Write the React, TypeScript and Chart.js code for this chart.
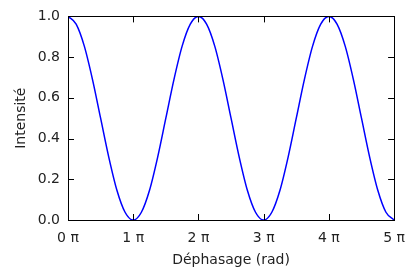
import React, { useEffect, useRef } from "react";
import { Chart, registerables } from "chart.js";

Chart.register(...registerables);

// Phase in units of π
const phase = [
  0, 0.125, 0.25, 0.375, 0.5, 0.625, 0.75, 0.875,
  1, 1.125, 1.25, 1.375, 1.5, 1.625, 1.75, 1.875,
  2, 2.125, 2.25, 2.375, 2.5, 2.625, 2.75, 2.875,
  3, 3.125, 3.25, 3.375, 3.5, 3.625, 3.75, 3.875,
  4, 4.125, 4.25, 4.375, 4.5, 4.625, 4.75, 4.875,
  5,
];
const intensity = [
  1, 0.962, 0.854, 0.691, 0.5, 0.309, 0.146, 0.038,
  0, 0.038, 0.146, 0.309, 0.5, 0.691, 0.854, 0.962,
  1, 0.962, 0.854, 0.691, 0.5, 0.309, 0.146, 0.038,
  0, 0.038, 0.146, 0.309, 0.5, 0.691, 0.854, 0.962,
  1, 0.962, 0.854, 0.691, 0.5, 0.309, 0.146, 0.038,
  0,
];
const xTicks = [0, 1, 2, 3, 4, 5];
const yTicks = [0, 0.2, 0.4, 0.6, 0.8, 1.0];
const xTitle = "Déphasage (rad)";
const yTitle = "Intensité";

const FONT = "'DejaVu Sans', sans-serif";

const framePlugin = {
  id: "frameTicks",
  afterDraw(chart: any) {
    const { ctx, chartArea } = chart;
    const { left, right, top, bottom } = chartArea;
    const xs = chart.scales.x;
    const ys = chart.scales.y;
    const L = 6;
    ctx.save();
    ctx.strokeStyle = "#000";
    ctx.lineWidth = 1;
    ctx.beginPath();
    for (const v of xTicks) {
      const px = Math.round(xs.getPixelForValue(v)) + 0.5;
      ctx.moveTo(px, bottom);
      ctx.lineTo(px, bottom - L);
      ctx.moveTo(px, top);
      ctx.lineTo(px, top + L);
    }
    for (const v of yTicks) {
      const py = Math.round(ys.getPixelForValue(v)) + 0.5;
      ctx.moveTo(left, py);
      ctx.lineTo(left + L, py);
      ctx.moveTo(right, py);
      ctx.lineTo(right - L, py);
    }
    ctx.stroke();
    ctx.strokeRect(Math.round(left) + 0.5, Math.round(top) + 0.5, Math.round(right - left), Math.round(bottom - top));
    ctx.restore();
  },
};

export default function App() {
  const ref = useRef<HTMLCanvasElement>(null);
  useEffect(() => {
    document.body.style.margin = "0";
    const chart = new Chart(ref.current!, {
      type: "line",
      data: {
        datasets: [
          {
            data: phase.map((p, i) => ({ x: p, y: intensity[i] })),
            borderColor: "#0000ff",
            borderWidth: 1.5,
            pointRadius: 0,
            cubicInterpolationMode: "monotone",
            fill: false,
          },
        ],
      },
      options: {
        animation: false,
        responsive: false,
        layout: { padding: { top: 12, right: 11, left: 0, bottom: 0 } },
        plugins: { legend: { display: false }, tooltip: { enabled: false } },
        scales: {
          x: {
            type: "linear",
            min: 0,
            max: 5,
            afterBuildTicks: (s: any) => {
              s.ticks = xTicks.map((v) => ({ value: v }));
            },
            afterFit: (s: any) => {
              s.height = 53;
            },
            grid: { display: false, drawTicks: false },
            border: { display: false },
            ticks: {
              color: "#222",
              font: { family: FONT, size: 14 },
              padding: 10,
              maxRotation: 0,
              callback: (v: any) => `${v} π`,
            },
            title: {
              display: true,
              text: xTitle,
              color: "#222",
              font: { family: FONT, size: 14 },
              padding: { top: 0, bottom: 4 },
            },
          },
          y: {
            type: "linear",
            min: 0,
            max: 1,
            afterBuildTicks: (s: any) => {
              s.ticks = yTicks.map((v) => ({ value: v }));
            },
            afterFit: (s: any) => {
              s.width = 68;
            },
            grid: { display: false, drawTicks: false },
            border: { display: false },
            ticks: {
              color: "#222",
              font: { family: FONT, size: 14 },
              padding: 8,
              callback: (v: any) => Number(v).toFixed(1),
            },
            title: {
              display: true,
              text: yTitle,
              color: "#222",
              font: { family: FONT, size: 14 },
              padding: { top: 13, bottom: 0 },
            },
          },
        },
      },
      plugins: [framePlugin],
    } as any);
    return () => chart.destroy();
  }, []);
  return (
    <div style={{ width: 415, height: 273, background: "#fff" }}>
      <canvas ref={ref} width={415} height={273} />
    </div>
  );
}
